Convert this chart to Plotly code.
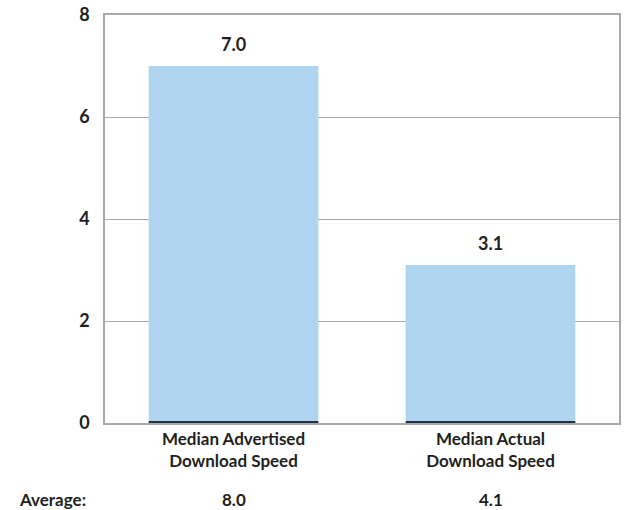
import plotly.graph_objects as go

categories = ["Median Advertised<br>Download Speed", "Median Actual<br>Download Speed"]
median_values = [7.0, 3.1]
average_values = [8.0, 4.1]
y_ticks = [0, 2, 4, 6, 8]

BAR = "#AED4F0"
TXT = "#231f20"
GRID = "#a8a8a8"
FONT = "Lato"

fig = go.Figure()
fig.add_trace(go.Bar(x=categories, y=median_values, marker=dict(color=BAR, line=dict(width=0)),
                     width=0.66, hoverinfo="skip"))
# thin dark baseline under each bar
fig.add_trace(go.Bar(x=categories, y=[0.022] * len(categories), marker=dict(color="#1f2f46", line=dict(width=0)),
                     width=0.66, hoverinfo="skip"))

for c, v in zip(categories, median_values):
    fig.add_annotation(x=c, y=v, text=f"{v:.1f}", showarrow=False, yanchor="bottom", yshift=9,
                       font=dict(family=FONT, size=18, color=TXT, weight="bold"))

for c, a in zip(categories, average_values):
    fig.add_annotation(x=c, xref="x", y=-0.187, yref="paper", text=f"{a:.1f}", showarrow=False,
                       yanchor="middle", font=dict(family=FONT, size=17, color=TXT, weight="bold"))
fig.add_annotation(x=-0.103, xref="paper", y=-0.187, yref="paper", text="Average:", showarrow=False,
                   xanchor="center", yanchor="middle", font=dict(family=FONT, size=17, color=TXT, weight="bold"))

fig.update_layout(
    width=624, height=510,
    margin=dict(l=105, r=3, t=12, b=87),
    paper_bgcolor="white", plot_bgcolor="white",
    barmode="overlay", showlegend=False, bargap=0.34,
    font=dict(family=FONT, color=TXT),
)
fig.update_xaxes(showline=True, mirror=True, linecolor=GRID, linewidth=1.5, ticks="", automargin=False,
                 tickfont=dict(family=FONT, size=17, color=TXT, weight="bold"))
fig.update_yaxes(range=[0, 8], tickvals=y_ticks, showgrid=True, gridcolor=GRID, gridwidth=1.2,
                 showline=True, mirror=True, linecolor=GRID, linewidth=1.5, zeroline=False,
                 ticks="", ticklabelstandoff=10, automargin=True,
                 tickfont=dict(family=FONT, size=18, color=TXT, weight="bold"))

fig.write_html("out.html", config={"displayModeBar": False},
               post_script="document.body.style.margin='0';")
